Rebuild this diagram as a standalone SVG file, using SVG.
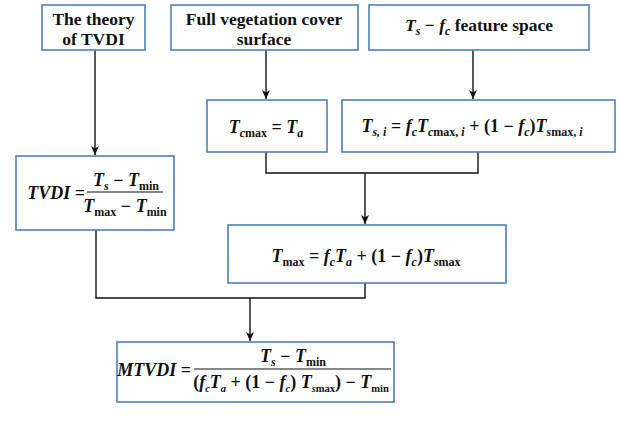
<svg xmlns="http://www.w3.org/2000/svg" width="619" height="425" viewBox="0 0 619 425">
<style>
.box{fill:#fff;stroke:#4f7fb8;stroke-width:1.6}
.lbl{font-family:'Liberation Serif','DejaVu Serif',serif;font-weight:bold;font-size:17.5px;fill:#111}
.f{font-family:'Liberation Serif','DejaVu Serif',serif;font-weight:bold;font-size:18px;fill:#111}
.i{font-style:italic}
.s{font-size:12px}
.con{fill:none;stroke:#111;stroke-width:1.4}
</style>
<defs>
<marker id="ah" markerWidth="10" markerHeight="10" refX="9" refY="5" orient="auto" markerUnits="userSpaceOnUse">
<path d="M0,1 L9,5 L0,9 L2.5,5 Z" fill="#111"/>
</marker>
</defs>
<rect width="619" height="425" fill="#fff"/>
<g id="connectors">
<line class="con" x1="95" y1="50" x2="95" y2="155" marker-end="url(#ah)"/>
<line class="con" x1="266" y1="50" x2="266" y2="99" marker-end="url(#ah)"/>
<line class="con" x1="473" y1="50" x2="473" y2="99" marker-end="url(#ah)"/>
<polyline class="con" points="266,152 266,173 478,173 478,152"/>
<line class="con" x1="365" y1="173" x2="365" y2="224" marker-end="url(#ah)"/>
<polyline class="con" points="96,230 96,298 365,298 365,283"/>
<line class="con" x1="250" y1="298" x2="250" y2="341" marker-end="url(#ah)"/>
</g>
<g id="theory">
<rect class="box" x="42" y="5" width="103" height="45"/>
<text class="lbl" x="93.5" y="25" text-anchor="middle">The theory</text>
<text class="lbl" x="93.5" y="45" text-anchor="middle">of TVDI</text>
</g>
<g id="fullveg">
<rect class="box" x="171" y="5" width="187" height="45"/>
<text class="lbl" x="264" y="25" text-anchor="middle">Full vegetation cover</text>
<text class="lbl" x="264" y="45" text-anchor="middle">surface</text>
</g>
<g id="featurespace">
<rect class="box" x="369" y="5" width="220" height="45"/>
<text class="lbl" x="479" y="31" text-anchor="middle"><tspan class="i">T</tspan><tspan class="i s" dy="4">s</tspan><tspan dy="-4"> − </tspan><tspan class="i">f</tspan><tspan class="i s" dy="4">c</tspan><tspan dy="-4"> feature space</tspan></text>
</g>
<g id="tcmax">
<rect class="box" x="207" y="100" width="120" height="52"/>
<text class="f" x="266" y="133" text-anchor="middle"><tspan class="i">T</tspan><tspan class="i s" dy="4">c</tspan><tspan class="s">max</tspan><tspan dy="-4"> = </tspan><tspan class="i">T</tspan><tspan class="i s" dy="4">a</tspan></text>
</g>
<g id="tsi">
<rect class="box" x="342" y="100" width="273" height="52"/>
<text class="f" x="472" y="132" text-anchor="middle" font-size="17.5"><tspan class="i">T</tspan><tspan class="i s" dy="4">s, i</tspan><tspan dy="-4"> = </tspan><tspan class="i">f</tspan><tspan class="i s" dy="4">c</tspan><tspan class="i" dy="-4">T</tspan><tspan class="i s" dy="4">c</tspan><tspan class="s">max, </tspan><tspan class="i s">i</tspan><tspan dy="-4"> + (1 − </tspan><tspan class="i">f</tspan><tspan class="i s" dy="4">c</tspan><tspan dy="-4">)</tspan><tspan class="i">T</tspan><tspan class="i s" dy="4">s</tspan><tspan class="s">max, </tspan><tspan class="i s">i</tspan></text>
</g>
<g id="tvdi">
<rect class="box" x="16" y="156" width="158" height="74"/>
<text class="f" x="85" y="199" text-anchor="end"><tspan class="i">TVDI</tspan> =</text>
<text class="f" x="126" y="186" text-anchor="middle"><tspan class="i">T</tspan><tspan class="i s" dy="4">s</tspan><tspan dy="-4"> − </tspan><tspan class="i">T</tspan><tspan class="s" dy="4">min</tspan></text>
<line x1="87" y1="192" x2="163" y2="192" stroke="#111" stroke-width="1.2"/>
<text class="f" x="125" y="212" text-anchor="middle"><tspan class="i">T</tspan><tspan class="s" dy="4">max</tspan><tspan dy="-4"> − </tspan><tspan class="i">T</tspan><tspan class="s" dy="4">min</tspan></text>
</g>
<g id="tmax">
<rect class="box" x="228" y="225" width="278" height="58"/>
<text class="f" x="366" y="262" text-anchor="middle"><tspan class="i">T</tspan><tspan class="s" dy="4">max</tspan><tspan dy="-4"> = </tspan><tspan class="i">f</tspan><tspan class="i s" dy="4">c</tspan><tspan class="i" dy="-4">T</tspan><tspan class="i s" dy="4">a</tspan><tspan dy="-4"> + (1 − </tspan><tspan class="i">f</tspan><tspan class="i s" dy="4">c</tspan><tspan dy="-4">)</tspan><tspan class="i">T</tspan><tspan class="i s" dy="4">s</tspan><tspan class="s">max</tspan></text>
</g>
<g id="mtvdi">
<rect class="box" x="117" y="342" width="277" height="60"/>
<text class="f" x="191" y="376" text-anchor="end" font-size="17"><tspan class="i">MTVDI</tspan> =</text>
<text class="f" x="293" y="362" text-anchor="middle"><tspan class="i">T</tspan><tspan class="i s" dy="4">s</tspan><tspan dy="-4"> − </tspan><tspan class="i">T</tspan><tspan class="s" dy="4">min</tspan></text>
<line x1="194" y1="369" x2="391" y2="369" stroke="#111" stroke-width="1.2"/>
<text class="f" x="291" y="388" text-anchor="middle" font-size="15.5">(<tspan class="i">f</tspan><tspan class="i" font-size="10.5" dy="4">c</tspan><tspan class="i" dy="-4">T</tspan><tspan class="i" font-size="10.5" dy="4">a</tspan><tspan dy="-4"> + (1 − </tspan><tspan class="i">f</tspan><tspan class="i" font-size="10.5" dy="4">c</tspan><tspan dy="-4">) </tspan><tspan class="i">T</tspan><tspan class="i" font-size="10.5" dy="4">s</tspan><tspan font-size="10.5">max</tspan><tspan dy="-4">) − </tspan><tspan class="i">T</tspan><tspan font-size="10.5" dy="4">min</tspan></text>
</g>
</svg>
